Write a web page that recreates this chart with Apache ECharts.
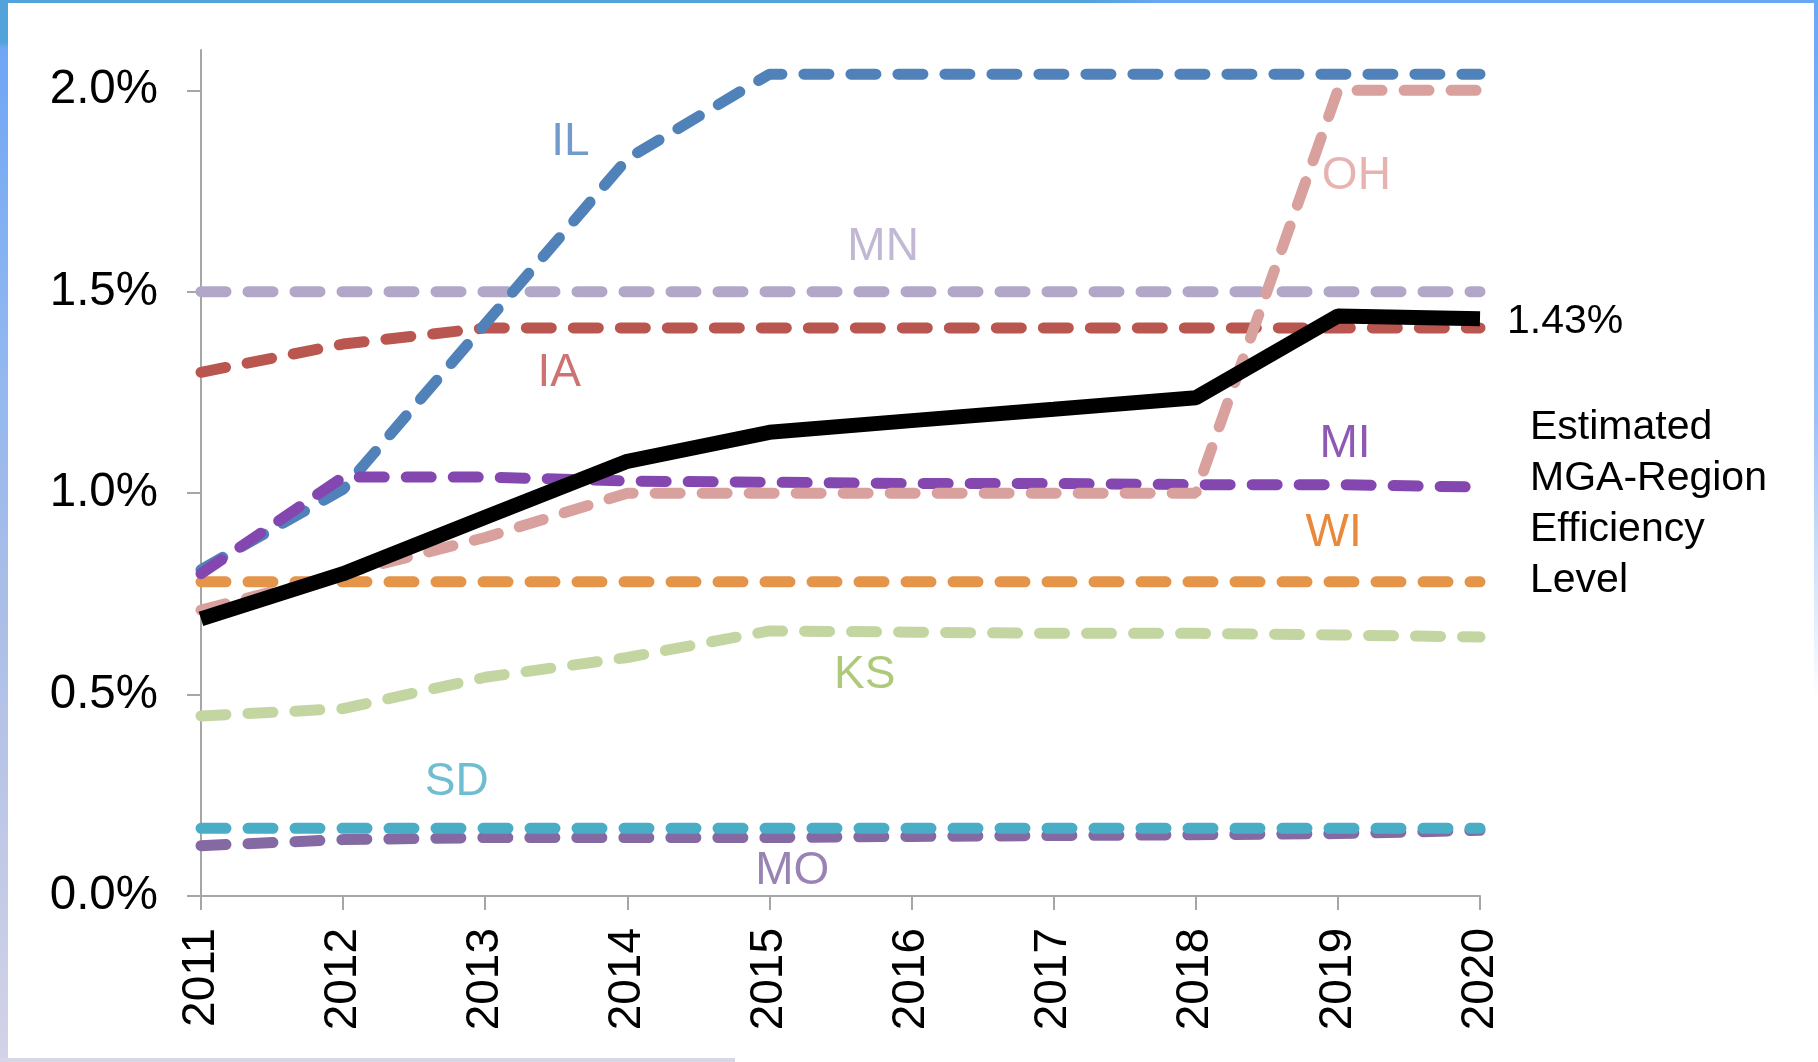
<!DOCTYPE html>
<html>
<head>
<meta charset="utf-8">
<title>MGA-Region Efficiency Level</title>
<script src="https://cdn.jsdelivr.net/npm/echarts@6/dist/echarts.min.js"></script>
<style>
  html, body { margin: 0; padding: 0; background: #fff; }
  #chart { width: 1818px; height: 1062px; }
</style>
</head>
<body>
<div id="chart"></div>
<script>
// years on the x axis
const years = [2011, 2012, 2013, 2014, 2015, 2016, 2017, 2018, 2019, 2020];

// state savings targets, % of sales
const IL = [0.81, 1.01, 1.42, 1.83, 2.04, 2.04, 2.04, 2.04, 2.04, 2.04];
const MN = [1.5, 1.5, 1.5, 1.5, 1.5, 1.5, 1.5, 1.5, 1.5, 1.5];
const IA = [1.30, 1.37, 1.41, 1.41, 1.41, 1.41, 1.41, 1.41, 1.41, 1.41];
const OH = [0.71, 0.80, 0.89, 1.0, 1.0, 1.0, 1.0, 1.0, 2.0, 2.0];
const MI = [0.80, 1.04, 1.04, 1.03, 1.027, 1.024, 1.024, 1.021, 1.021, 1.015];
const WI = [0.78, 0.78, 0.78, 0.78, 0.78, 0.78, 0.78, 0.78, 0.78, 0.78];
const KS = [0.447, 0.465, 0.543, 0.592, 0.658, 0.655, 0.652, 0.652, 0.648, 0.643];
const SD = [0.168, 0.168, 0.168, 0.168, 0.168, 0.168, 0.168, 0.168, 0.168, 0.168];
const MO = [0.125, 0.14, 0.145, 0.145, 0.145, 0.148, 0.15, 0.152, 0.155, 0.163];
const estimated = [0.688, 0.80, 0.94, 1.079, 1.151, 1.18, 1.208, 1.237, 1.44, 1.433];

// y axis ticks
const yTicks = [0, 0.5, 1.0, 1.5, 2.0];

// where each state name sits (year, %)
const stateNames = ["IL", "MN", "IA", "OH", "MI", "WI", "KS", "SD", "MO"];
const nameYears = [2013.6, 2015.8, 2013.52, 2019.13, 2019.05, 2018.97, 2015.67, 2012.8, 2015.16];
const nameValues = [1.872, 1.61, 1.298, 1.786, 1.122, 0.90, 0.548, 0.283, 0.061];

const FONT = "'Liberation Sans', Arial, sans-serif";

const lineColors = {
  IL: "#5082b9",
  MN: "#b3a7c9",
  IA: "#ba5650",
  OH: "#d9a19e",
  MI: "#8447b0",
  WI: "#e5954a",
  KS: "#c3d6a2",
  SD: "#4aadc6",
  MO: "#8569a3",
};
const nameColors = {
  IL: "#4f81bd",
  MN: "#b3a6c9",
  IA: "#c0504d",
  OH: "#e0a09e",
  MI: "#7030a0",
  WI: "#e46c0a",
  KS: "#9bbb59",
  SD: "#4bacc6",
  MO: "#8064a2",
};

const chart = echarts.init(document.getElementById("chart"));

function pairs(vals) {
  return years.map((y, i) => [y, vals[i]]);
}

function dashed(name, vals) {
  return {
    name: name,
    type: "line",
    data: pairs(vals),
    showSymbol: false,
    silent: true,
    lineStyle: {
      color: lineColors[name],
      width: 11,
      type: [25, 22],
      cap: "round",
    },
    animation: false,
  };
}

// draw order matters: later ones sit on top
const states = { MO, SD, KS, WI, MN, IA, IL, MI, OH };
const series = Object.keys(states).map((k) => dashed(k, states[k]));

series.push({
  name: "Estimated",
  type: "line",
  data: pairs(estimated),
  showSymbol: false,
  silent: true,
  lineStyle: { color: "#000", width: 15, cap: "butt" },
  endLabel: {
    show: true,
    distance: 27,
    color: "#000",
    fontFamily: FONT,
    fontSize: 41,
    offset: [0, 3],
    formatter: (p) => p.value[1].toFixed(2) + "%",
  },
  animation: false,
});

series.push({
  name: "names",
  type: "scatter",
  symbolSize: 1,
  silent: true,
  itemStyle: { color: "rgba(0,0,0,0)" },
  data: stateNames.map((n, i) => ({
    name: n,
    value: [nameYears[i], nameValues[i]],
    label: { color: nameColors[n] },
  })),
  label: {
    show: true,
    position: "inside",
    formatter: "{b}",
    fontFamily: FONT,
    fontSize: 46,
  },
  animation: false,
});

chart.setOption({
  backgroundColor: "#fff",
  grid: {
    left: 201,
    right: 338,
    top: 50,
    bottom: 166,
  },
  xAxis: {
    type: "value",
    min: 2011,
    max: 2020,
    interval: 1,
    axisLine: { lineStyle: { color: "#a6a6a6", width: 2 } },
    axisTick: { show: true, length: 14, lineStyle: { color: "#a6a6a6", width: 2 } },
    splitLine: { show: false },
    axisLabel: {
      rotate: 90,
      margin: 32,
      color: "#000",
      fontFamily: FONT,
      fontSize: 46,
      formatter: (v) => String(v),
    },
  },
  yAxis: {
    type: "value",
    min: 0,
    max: 2.1,
    axisLine: { show: true, lineStyle: { color: "#a6a6a6", width: 2 } },
    axisTick: {
      show: true,
      length: 14,
      customValues: yTicks,
      lineStyle: { color: "#a6a6a6", width: 2 },
    },
    splitLine: { show: false },
    axisLabel: {
      margin: 43,
      color: "#000",
      fontFamily: FONT,
      fontSize: 47.5,
      padding: [7, 0, 0, 0],
      customValues: yTicks,
      formatter: (v) => v.toFixed(1) + "%",
    },
  },
  graphic: [
    // slide frame
    {
      type: "rect",
      shape: { x: 0, y: 0, width: 1818, height: 3 },
      style: {
        fill: new echarts.graphic.LinearGradient(0, 0, 1, 0, [
          { offset: 0, color: "#52a3dc" },
          { offset: 0.6, color: "#52a3dc" },
          { offset: 0.64, color: "#6ba6f5" },
          { offset: 1, color: "#6ba6f5" },
        ]),
      },
      silent: true,
    },
    {
      type: "rect",
      shape: { x: 0, y: 0, width: 8, height: 1062 },
      style: {
        fill: new echarts.graphic.LinearGradient(0, 0, 0, 1, [
          { offset: 0, color: "#52a3dc" },
          { offset: 0.04, color: "#52a3dc" },
          { offset: 0.045, color: "#6fa6f5" },
          { offset: 0.3, color: "#8db6f1" },
          { offset: 0.6, color: "#aebfe6" },
          { offset: 1, color: "#d3d3e6" },
        ]),
      },
      silent: true,
    },
    {
      type: "rect",
      shape: { x: 1814, y: 0, width: 4, height: 700 },
      style: {
        fill: new echarts.graphic.LinearGradient(0, 0, 0, 1, [
          { offset: 0, color: "#6ba6f5" },
          { offset: 0.6, color: "#9cc2f5" },
          { offset: 1, color: "#ffffff" },
        ]),
      },
      silent: true,
    },
    {
      type: "rect",
      shape: { x: 0, y: 1058, width: 735, height: 4 },
      style: { fill: "#d6d6e8" },
      silent: true,
    },
    {
      type: "text",
      left: 1530,
      top: 402,
      silent: true,
      style: {
        text: "Estimated\nMGA-Region\nEfficiency\nLevel",
        fill: "#000",
        font: "41px " + FONT,
        lineHeight: 51,
      },
    },
  ],
  series: series,
});
</script>
</body>
</html>
